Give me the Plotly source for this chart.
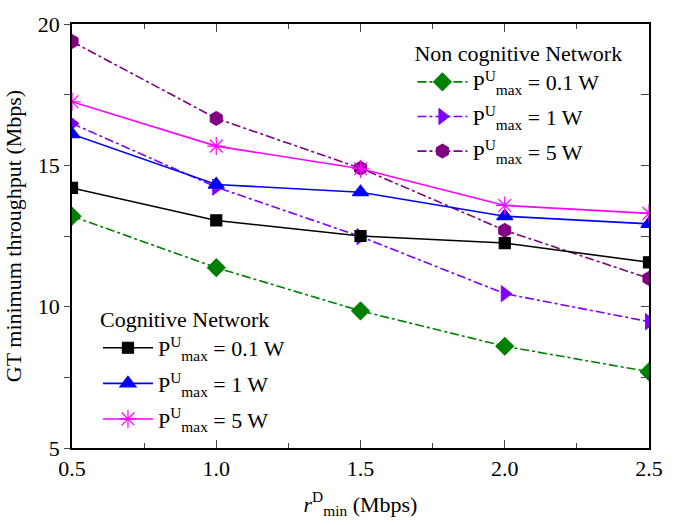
import plotly.graph_objects as go

x_vals = [0.5, 1.0, 1.5, 2.0, 2.5]

# Cognitive network
cog_01 = [14.2, 13.05, 12.5, 12.25, 11.57]
cog_1 = [16.1, 14.32, 14.05, 13.2, 12.93]
cog_5 = [17.25, 15.68, 14.88, 13.58, 13.3]

# Non cognitive network
non_01 = [13.2, 11.38, 9.85, 8.6, 7.7]
non_1 = [16.48, 14.23, 12.48, 10.46, 9.47]
non_5 = [19.38, 16.66, 14.9, 12.7, 11.0]

FONT = "Liberation Serif"
lab = lambda p: "P<sup>U</sup><sub>max</sub> = " + p

fig = go.Figure()

non_series = [
    (non_01, "#008000", "diamond", 14, lab("0.1 W")),
    (non_1, "#8000FF", "triangle-right", 14, lab("1 W")),
    (non_5, "#800080", "hexagon", 14, lab("5 W")),
]
cog_series = [
    (cog_01, "#000000", "square", 11, lab("0.1 W")),
    (cog_1, "#0000FF", "triangle-up", 14, lab("1 W")),
    (cog_5, "#FF00FF", "asterisk-open", 15, lab("5 W")),
]

for i, (ys, col, sym, sz, name) in enumerate(non_series):
    fig.add_trace(go.Scatter(
        x=x_vals, y=ys, mode="lines+markers", name=name, legend="legend",
        legendgroup="n%d" % i,
        line=dict(color=col, width=1.6, dash="dashdot"),
        marker=dict(symbol=sym, size=sz, color=col, line=dict(color=col, width=1)),
    ))
for i, (ys, col, sym, sz, name) in enumerate(cog_series):
    fig.add_trace(go.Scatter(
        x=x_vals, y=ys, mode="lines+markers", name=name, legend="legend2",
        legendgroup="c%d" % i,
        line=dict(color=col, width=1.6),
        marker=dict(symbol=sym, size=sz, color=col, line=dict(color=col, width=1.2)),
    ))

# helper trace for right-hand axis ticks
fig.add_trace(go.Scatter(x=[], y=[], yaxis="y2", showlegend=False, hoverinfo="skip"))

fig.update_layout(
    width=675, height=525,
    margin=dict(l=72, r=23, t=20, b=72),
    paper_bgcolor="white", plot_bgcolor="white",
    font=dict(family=FONT, size=22, color="black"),
    xaxis=dict(
        range=[0.5, 2.5], tickvals=[0.5, 1.0, 1.5, 2.0, 2.5],
        ticktext=["0.5", "1.0", "1.5", "2.0", "2.5"],
        ticks="inside", ticklen=8, tickwidth=1.2, mirror="ticks",
        showline=True, linecolor="black", linewidth=1.5, showgrid=False, zeroline=False,
        minor=dict(tickvals=[0.75, 1.25, 1.75, 2.25], ticks="inside", ticklen=5, tickwidth=1.2),
        title=dict(text="<i>r</i><sup>D</sup><sub>min</sub> (Mbps)", font=dict(family=FONT, size=22), standoff=16),
        tickfont=dict(family=FONT, size=22),
    ),
    yaxis=dict(
        range=[5, 20], tickvals=[5, 10, 15, 20],
        ticks="outside", ticklen=6, tickwidth=1.2,
        showline=True, linecolor="black", linewidth=1.5, showgrid=False, zeroline=False,
        minor=dict(tickvals=[7.5, 12.5, 17.5], ticks="outside", ticklen=6, tickwidth=1.2),
        title=dict(text="GT minimum throughput (Mbps)", font=dict(family=FONT, size=22), standoff=10),
        tickfont=dict(family=FONT, size=22),
    ),
    yaxis2=dict(
        overlaying="y", side="right", range=[5, 20], tickvals=[5, 10, 15, 20],
        ticks="inside", ticklen=8, tickwidth=1.2, showticklabels=False,
        showline=True, linecolor="black", linewidth=1.5, showgrid=False, zeroline=False,
        minor=dict(tickvals=[7.5, 12.5, 17.5], ticks="inside", ticklen=8, tickwidth=1.2),
    ),
    legend=dict(
        x=0.59, y=0.98, xanchor="left", yanchor="top",
        bgcolor="rgba(0,0,0,0)", borderwidth=0,
        title=dict(text="Non cognitive Network", font=dict(family=FONT, size=22)),
        font=dict(family=FONT, size=22), itemwidth=50, tracegroupgap=3,
    ),
    legend2=dict(
        x=0.045, y=0.353, xanchor="left", yanchor="top",
        bgcolor="rgba(0,0,0,0)", borderwidth=0,
        title=dict(text="Cognitive Network", font=dict(family=FONT, size=22)),
        font=dict(family=FONT, size=22), itemwidth=50, tracegroupgap=4,
    ),
    showlegend=True,
)

fig.write_html("out.html")
